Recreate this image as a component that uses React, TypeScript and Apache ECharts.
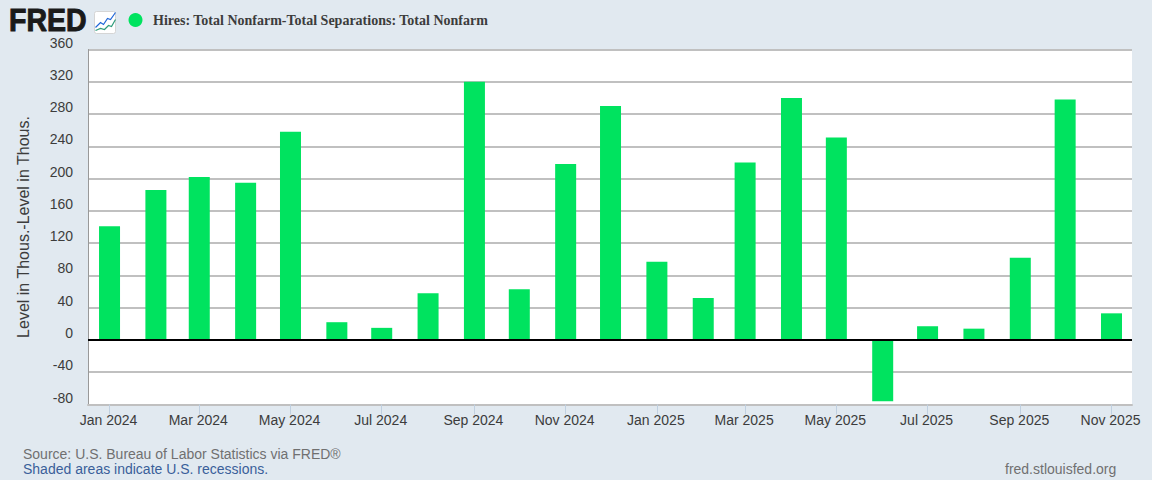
import React, { useEffect, useRef } from "react";
import * as echarts from "echarts";

const months = ["2024-01","2024-02","2024-03","2024-04","2024-05","2024-06","2024-07","2024-08","2024-09","2024-10","2024-11","2024-12","2025-01","2025-02","2025-03","2025-04","2025-05","2025-06","2025-07","2025-08","2025-09","2025-10","2025-11"];
const values = [141,186,202,195,258,22,15,58,320,63,218,290,97,52,220,300,251,-76,17,14,102,298,33];
const tickMonths = ["2024-01","2024-03","2024-05","2024-07","2024-09","2024-11","2025-01","2025-03","2025-05","2025-07","2025-09","2025-11"];
const tickLabels = ["Jan 2024","Mar 2024","May 2024","Jul 2024","Sep 2024","Nov 2024","Jan 2025","Mar 2025","May 2025","Jul 2025","Sep 2025","Nov 2025"];
const seriesName = "Hires: Total Nonfarm-Total Separations: Total Nonfarm";
const yAxisName = "Level in Thous.-Level in Thous.";

const DAY = 86400000;
const ms = (m: string) => Date.parse(m + "-01T00:00:00Z");
const tickTimes = tickMonths.map(ms);

export default function App() {
  const ref = useRef<HTMLDivElement>(null);
  useEffect(() => {
    const chart = echarts.init(ref.current!, null, { renderer: "svg" });
    const font = "'Liberation Sans', Arial, sans-serif";
    chart.setOption({
      animation: false,
      backgroundColor: "#e1e9f0",
      color: ["#00e35f"],
      legend: {
        left: 123.5, top: 8, icon: "circle", itemWidth: 14, itemHeight: 14, itemGap: 0,
        selectedMode: false,
        textStyle: { fontFamily: "'Liberation Serif', serif", fontWeight: "bold", fontSize: 14, color: "#3c3c3c", padding: [0, 0, 0, 5.5] },
      },
      grid: { left: 88, right: 20, top: 49.5, bottom: 75.5, backgroundColor: "#ffffff", show: true, borderWidth: 0 },
      xAxis: {
        type: "value",
        min: ms("2024-01") - 14.4 * DAY,
        max: ms("2025-11") + 13.7 * DAY,
        axisLine: { onZero: false, lineStyle: { color: "#c0c0c0", width: 2 } },
        axisTick: { show: true, length: 10, customValues: tickTimes, lineStyle: { color: "#c0d0e0", width: 1 } },
        axisLabel: {
          customValues: tickTimes, margin: 8, fontFamily: font, fontSize: 14, color: "#3c3c3c",
          padding: [0, 2, 0, 0],
          showMinLabel: true, showMaxLabel: true, hideOverlap: false,
          formatter: (v: number) => tickLabels[tickTimes.indexOf(v)] ?? "",
        },
        splitLine: { show: false },
      },
      yAxis: {
        type: "value", min: -80, max: 360, interval: 40,
        name: yAxisName, nameLocation: "middle", nameGap: 57, nameRotate: 90,
        nameTextStyle: { fontFamily: font, fontSize: 16, color: "#3c3c3c" },
        axisLine: { show: true, onZero: false, lineStyle: { color: "#999999", width: 1 } },
        axisTick: { show: false },
        axisLabel: { margin: 15, fontFamily: font, fontSize: 14, color: "#3c3c3c", verticalAlign: "bottom" },
        splitLine: { show: true, lineStyle: { color: "#c0c0c0", width: 2 } },
      },
      series: [{
        name: seriesName, type: "bar", barWidth: 21,
        data: months.map((m, i) => [ms(m), values[i]]),
        markLine: {
          silent: true, symbol: "none", label: { show: false },
          lineStyle: { color: "#000000", width: 2, type: "solid" },
          data: [{ yAxis: 0 }],
        },
      }],
      graphic: [
        { type: "text", x: 9, y: 5, scaleX: 0.92, style: { text: "FRED", fontFamily: "'Liberation Sans', sans-serif", fontWeight: 900, fontSize: 31, fill: "#1a1a1a", stroke: "#1a1a1a", lineWidth: 1 } },
        { type: "group", left: 93, top: 10, children: [
          { type: "rect", shape: { x: 0, y: 0, width: 21, height: 22, r: 2 }, style: { fill: "#ffffff", stroke: "#d5d5d5" } },
          { type: "polyline", shape: { points: [[1,16],[6,11],[9,13],[13,7],[16,8],[21,1]] }, style: { stroke: "#1f66d8", lineWidth: 1.2, fill: "none" } },
          { type: "polyline", shape: { points: [[1,19],[6,17],[10,18],[14,14],[17,15],[21,8]] }, style: { stroke: "#2f9c7c", lineWidth: 1.2, fill: "none" } },
        ] },
        { type: "text", left: 23, top: 447, style: { text: "Source: U.S. Bureau of Labor Statistics via FRED®", fontFamily: font, fontSize: 14, fill: "#707070" } },
        { type: "text", left: 23, top: 462, style: { text: "Shaded areas indicate U.S. recessions.", fontFamily: font, fontSize: 14, fill: "#3a5f9a" } },
        { type: "text", left: 1005, top: 462, style: { text: "fred.stlouisfed.org", fontFamily: font, fontSize: 14, fill: "#707070" } },
      ],
    });
    return () => chart.dispose();
  }, []);
  return <div ref={ref} style={{ position: "absolute", left: 0, top: 0, width: 1152, height: 480 }} />;
}
